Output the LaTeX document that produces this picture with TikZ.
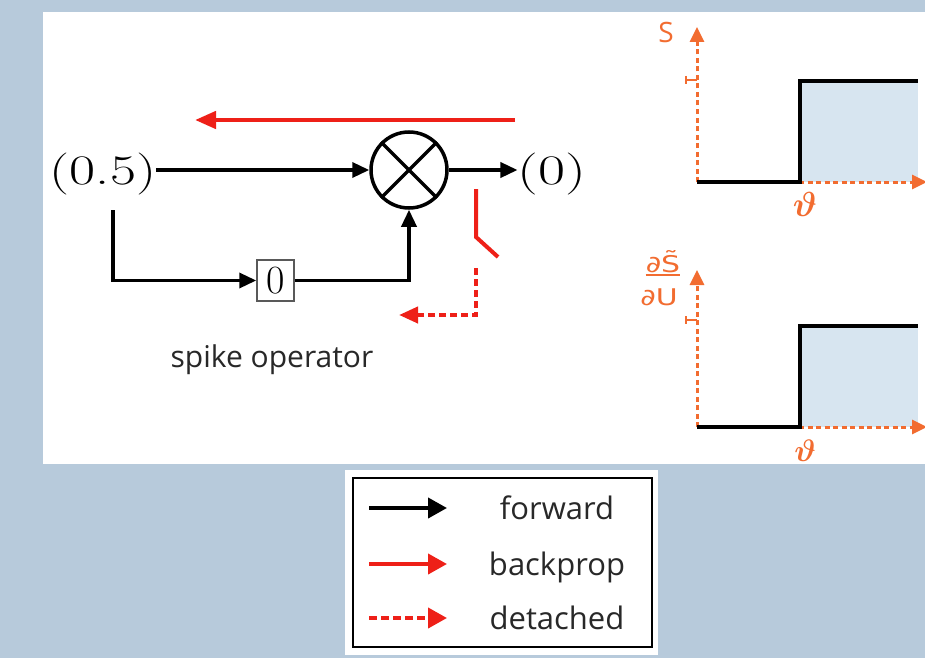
\documentclass[tikz,border=0pt]{standalone}
\usepackage{fontspec}
\usepackage{amsmath}
\usepackage{graphicx}
\newfontfamily\osans{Open Sans}
\newfontfamily\djv{DejaVu Sans}
\usetikzlibrary{arrows.meta}
\definecolor{bgblue}{RGB}{183,202,219}
\definecolor{myred}{RGB}{238,32,24}
\definecolor{myorange}{RGB}{242,108,48}
\definecolor{fillblue}{RGB}{215,229,240}
\definecolor{txtgray}{RGB}{40,40,40}
\begin{document}
\begin{tikzpicture}[x=1pt,y=-1pt,
  fwd/.style={black,line width=3.5pt,-{Triangle[length=17pt,width=15pt]}},
  bp/.style={myred,line width=4.5pt,-{Triangle[length=21pt,width=17pt]}},
  redline/.style={myred,line width=4pt},
  det/.style={myred,line width=4pt,dash pattern=on 7pt off 4pt,-{Triangle[length=19pt,width=16pt]}},
  axisline/.style={myorange,line width=3pt,dash pattern=on 5pt off 3.5pt,-{Triangle[length=15pt,width=14pt]}},
  stepline/.style={black,line width=3.5pt},
  bigserif/.style={inner sep=0pt,font=\fontsize{42}{42}\selectfont},
  legtext/.style={anchor=base,text=txtgray,font=\osans\fontsize{31}{31}\selectfont},
  orangelbl/.style={anchor=base,inner sep=0pt,text=myorange}
]
\useasboundingbox (0,0) rectangle (925,658);
\fill[bgblue] (0,0) rectangle (925,658);
\fill[white] (43,12) rectangle (925,464);

% ---------- left diagram ----------
\node[bigserif] (in) at (103,174) {\scalebox{1.35}[1]{(0.5)}};
\node[bigserif] (out) at (552,174) {\scalebox{1.4}[1]{(0)}};
\node[circle,draw=black,line width=3.5pt,minimum size=76pt,inner sep=0pt] (mul) at (409,170) {};
\draw[black,line width=3.5pt] (mul.north west) -- (mul.south east);
\draw[black,line width=3.5pt] (mul.north east) -- (mul.south west);
\node[draw=black!65,line width=1.5pt,minimum width=37pt,minimum height=41pt,inner sep=0pt,font=\fontsize{40}{40}\selectfont] (zero) at (275.5,280.5) {0};

\draw[fwd] (in.east |- mul.west) -- (mul.west);
\draw[fwd] (mul.east) -- (out.west |- mul.east);
\coordinate (ls) at (113,210);
\draw[fwd] (ls) |- (zero.west);
\draw[fwd] (zero.east) -| (mul.south);

\coordinate (rs) at (515,120);
\coordinate (re) at (195,120);
\draw[bp] (rs) -- (re);

\coordinate (sw1) at (476,189);
\coordinate (sw2) at (476,237);
\coordinate (sw3) at (498,257);
\draw[redline] (sw1) -- (sw2) -- (sw3);

\coordinate (dt1) at (476,268);
\coordinate (dt2) at (399,315);
\draw[det] (dt1) |- (dt2);

\node[anchor=base,text=txtgray,font=\osans\fontsize{30}{30}\selectfont] (lbl) at (272,367) {spike operator};

% ---------- top plot ----------
\fill[fillblue] (800,81) rectangle (918,182);
\coordinate (o1) at (697,182);
\coordinate (y1) at (697,27);
\coordinate (x1) at (927,182);
\draw[axisline] (o1) -- (y1);
\draw[axisline] (o1) -- (x1);
\draw[myorange,line width=2.5pt] (686,76) -- (686,84) (686,80) -- (697,80);
\draw[stepline] (o1) -- (800,182) -- (800,81) -- (918,81);
\node[orangelbl,font=\osans\fontsize{28}{28}\selectfont] (S) at (666,43) {S};
\node[orangelbl,font=\fontsize{24}{24}\selectfont] (th1) at (805,216) {\scalebox{1.4}{$\boldsymbol{\vartheta}$}};

% ---------- bottom plot ----------
\fill[fillblue] (800,326) rectangle (918,427);
\coordinate (o2) at (697,427);
\coordinate (y2) at (697,270);
\coordinate (x2) at (927,427);
\draw[axisline] (o2) -- (y2);
\draw[axisline] (o2) -- (x2);
\draw[myorange,line width=2.5pt] (686,316) -- (686,324) (686,320) -- (697,320);
\draw[stepline] (o2) -- (800,427) -- (800,326) -- (918,326);
\node[orangelbl,font=\djv\fontsize{23}{23}\selectfont] (num) at (663,272) {\scalebox{1.3}[1]{∂\~{S}}};
\node[orangelbl,font=\djv\fontsize{23}{23}\selectfont] (den) at (659,305) {\scalebox{1.3}[1]{∂U}};
\draw[myorange,line width=2pt] (num.south west |- 0,275) -- (num.south east |- 0,275);
\node[orangelbl,font=\fontsize{24}{24}\selectfont] (th2) at (805,461) {\scalebox{1.25}{$\boldsymbol{\vartheta}$}};

% ---------- legend ----------
\fill[white] (345,470) rectangle (658,655);
\node[draw=black,line width=2.5pt,minimum width=299pt,minimum height=169pt,inner sep=0pt] (leg) at (502.5,562.5) {};
\coordinate (f1) at (369,508);
\coordinate (f2) at (447,508);
\coordinate (b1) at (369,564);
\coordinate (b2) at (447,564);
\coordinate (d1) at (369,618);
\coordinate (d2) at (447,618);
\draw[black,line width=4pt,-{Triangle[length=19pt,width=20pt]}] (f1) -- (f2);
\draw[myred,line width=4pt,-{Triangle[length=19pt,width=20pt]}] (b1) -- (b2);
\draw[myred,line width=4pt,dash pattern=on 8pt off 4pt,-{Triangle[length=19pt,width=20pt]}] (d1) -- (d2);
\node[legtext] (tf) at (557,519) {forward};
\node[legtext] (tb) at (557,575) {backprop};
\node[legtext] (td) at (557,629) {detached};
\end{tikzpicture}
\end{document}
